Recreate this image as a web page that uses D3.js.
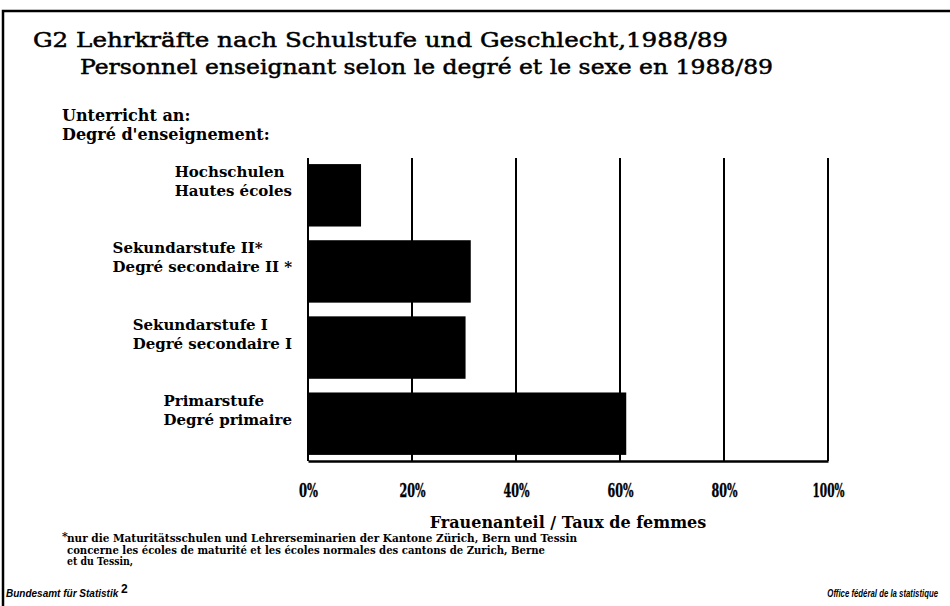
<!DOCTYPE html>
<html>
<head>
<meta charset="utf-8">
<script src="https://cdn.jsdelivr.net/npm/d3@7"></script>
<style>
  body { margin: 0; background: #fff; }
  svg { display: block; }
</style>
</head>
<body>
<div id="chart"></div>
<script>
// values (share of women, %)
const categories = ['Hochschulen', 'Sekundarstufe II', 'Sekundarstufe I', 'Primarstufe'];
const labelsDe = ['Hochschulen', 'Sekundarstufe II*', 'Sekundarstufe I', 'Primarstufe'];
const labelsFr = ['Hautes écoles', 'Degré secondaire II *', 'Degré secondaire I', 'Degré primaire'];
const values = [10.2, 31.3, 30.3, 61.2];
const tickValues = [0, 20, 40, 60, 80, 100];

const titleLines = [
  'G2 Lehrkräfte nach Schulstufe und Geschlecht,1988/89',
  'Personnel enseignant selon le degré et le sexe en 1988/89'
];
const footnoteLines = [
  'nur die Maturitätsschulen und Lehrerseminarien der Kantone Zürich, Bern und Tessin',
  'concerne les écoles de maturité et les écoles normales des cantons de Zurich, Berne',
  'et du Tessin,'
];

const width = 950, height = 606;
const serif = '"DejaVu Serif", "Liberation Serif", serif';
const sans = '"Liberation Sans", Arial, sans-serif';

const svg = d3.select('#chart').append('svg')
    .attr('width', width)
    .attr('height', height);

// frame (top + left edge of the scanned page)
svg.append('path')
    .attr('d', `M3,${height} L3,11 L${width},11`)
    .attr('fill', 'none')
    .attr('stroke', '#000')
    .attr('stroke-width', 2.5);

// title
svg.append('text')
    .attr('x', 33).attr('y', 47)
    .attr('textLength', 695).attr('lengthAdjust', 'spacingAndGlyphs')
    .style('font-family', serif).style('font-size', '21px')
    .attr('stroke', '#000').attr('stroke-width', 0.5)
    .text(titleLines[0]);
svg.append('text')
    .attr('x', 80).attr('y', 74)
    .attr('textLength', 693).attr('lengthAdjust', 'spacingAndGlyphs')
    .style('font-family', serif).style('font-size', '21px')
    .attr('stroke', '#000').attr('stroke-width', 0.5)
    .text(titleLines[1]);

// axis caption on the left
svg.append('text')
    .attr('x', 62).attr('y', 121)
    .style('font-family', serif).style('font-size', '16px').style('font-weight', 'bold')
    .text('Unterricht an:');
svg.append('text')
    .attr('x', 62).attr('y', 140)
    .style('font-family', serif).style('font-size', '16px').style('font-weight', 'bold')
    .text('Degré d\'enseignement:');

// scales
const x = d3.scaleLinear().domain([0, 100]).range([308, 828]);
const y = d3.scaleBand().domain(categories).range([158, 461])
    .paddingInner(0.18).paddingOuter(0.08);

// gridlines
svg.append('g').selectAll('line')
    .data(tickValues)
    .join('line')
    .attr('x1', d => x(d)).attr('x2', d => x(d))
    .attr('y1', 158).attr('y2', 461)
    .attr('stroke', '#000')
    .attr('stroke-width', 2);

// bars
svg.append('g').selectAll('rect')
    .data(values)
    .join('rect')
    .attr('x', x(0))
    .attr('y', (d, i) => y(categories[i]))
    .attr('width', d => x(d) - x(0))
    .attr('height', y.bandwidth())
    .attr('fill', '#000');

// x axis (baseline + percentage labels)
const xAxis = svg.append('g')
    .attr('transform', 'translate(0,461)')
    .call(d3.axisBottom(x).tickValues(tickValues).tickSize(0).tickPadding(23)
        .tickFormat(d => d + '%'));
xAxis.select('.domain')
    .attr('stroke', '#000').attr('stroke-width', 2.5);
xAxis.selectAll('text')
    .style('font-family', serif).style('font-size', '18px').style('font-weight', 'bold')
    .attr('textLength', d => d === 100 ? 32 : d === 0 ? 19 : 26)
    .attr('lengthAdjust', 'spacingAndGlyphs')
    .attr('stroke', '#000').attr('stroke-width', 0.4)
    .attr('fill', '#000');

svg.append('text')
    .attr('x', 568).attr('y', 528)
    .attr('text-anchor', 'middle')
    .style('font-family', serif).style('font-size', '16px').style('font-weight', 'bold')
    .text('Frauenanteil  / Taux de femmes');

// category labels: each pair left-aligned, block ending near the plot
const labelRight = 292;
const labels = svg.append('g').selectAll('g')
    .data(categories)
    .join('g');
labels.each(function(c, i) {
  const g = d3.select(this);
  const cy = y(c) + y.bandwidth() / 2;
  const t1 = g.append('text').attr('y', cy - 18).text(labelsDe[i]);
  const t2 = g.append('text').attr('y', cy + 1).text(labelsFr[i]);
  g.selectAll('text')
      .style('font-family', serif).style('font-size', '15px').style('font-weight', 'bold');
  const w = Math.max(t1.node().getComputedTextLength(), t2.node().getComputedTextLength());
  g.selectAll('text').attr('x', labelRight - w);
});

// footnote
svg.append('text')
    .attr('x', 62).attr('y', 540)
    .style('font-family', serif).style('font-size', '11px').style('font-weight', 'bold')
    .text('*');
const foot = svg.append('g');
foot.selectAll('text')
    .data(footnoteLines)
    .join('text')
    .attr('x', 67)
    .attr('y', (d, i) => 542 + i * 11.5)
    .attr('textLength', (d, i) => [510, 478, 66][i])
    .attr('lengthAdjust', 'spacingAndGlyphs')
    .style('font-family', serif).style('font-size', '10.5px').style('font-weight', 'bold')
    .text(d => d);

// publisher line
svg.append('text')
    .attr('x', 6).attr('y', 597)
    .style('font-family', sans)
    .style('font-size', '10px').style('font-weight', 'bold').style('font-style', 'italic')
    .text('Bundesamt für Statistik');
svg.append('text')
    .attr('x', 121).attr('y', 593)
    .style('font-family', sans)
    .style('font-size', '12px').style('font-weight', 'bold')
    .text('2');
svg.append('g')
    .attr('transform', 'translate(938,597) scale(0.78,1)')
  .append('text')
    .attr('text-anchor', 'end')
    .style('font-family', sans)
    .style('font-size', '10px').style('font-weight', 'bold').style('font-style', 'italic')
    .text('Office fédéral de la statistique');
</script>
</body>
</html>
